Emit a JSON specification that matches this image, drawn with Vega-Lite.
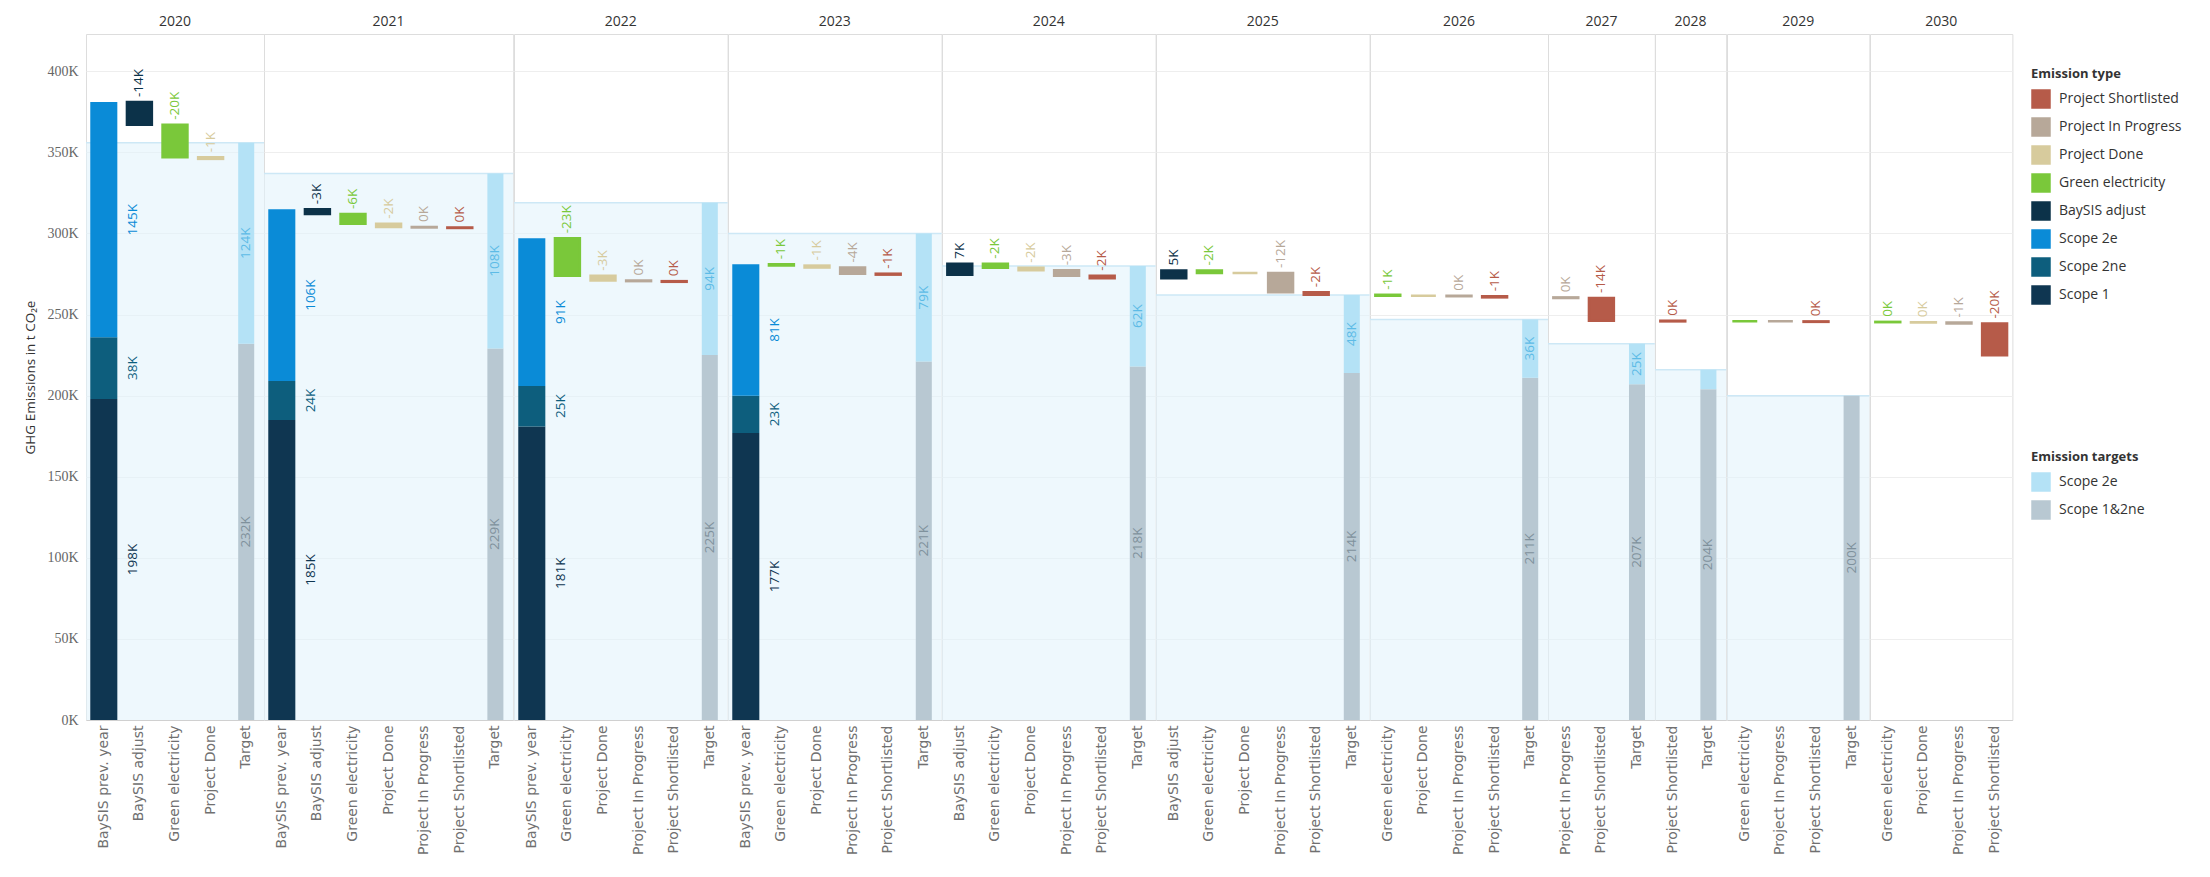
{
  "$schema": "https://vega.github.io/schema/vega-lite/v6.json",
  "background": "white",
  "padding": {"left": 23, "top": 15, "right": 0, "bottom": 0},
  "data": {
    "values": [
      {"year": "2020", "step": "BaySIS prev. year", "type": "Scope 1", "v": 198},
      {"year": "2020", "step": "BaySIS prev. year", "type": "Scope 2ne", "v": 38},
      {"year": "2020", "step": "BaySIS prev. year", "type": "Scope 2e", "v": 145},
      {"year": "2020", "step": "BaySIS adjust", "type": "BaySIS adjust", "v": -14, "base": 381},
      {"year": "2020", "step": "Green electricity", "type": "Green electricity", "v": -20, "base": 367},
      {"year": "2020", "step": "Project Done", "type": "Project Done", "v": -1, "base": 347},
      {"year": "2020", "step": "Target", "type": "Scope 1&2ne", "v": 232},
      {"year": "2020", "step": "Target", "type": "Scope 2e", "v": 124},

      {"year": "2021", "step": "BaySIS prev. year", "type": "Scope 1", "v": 185},
      {"year": "2021", "step": "BaySIS prev. year", "type": "Scope 2ne", "v": 24},
      {"year": "2021", "step": "BaySIS prev. year", "type": "Scope 2e", "v": 106},
      {"year": "2021", "step": "BaySIS adjust", "type": "BaySIS adjust", "v": -3, "base": 315},
      {"year": "2021", "step": "Green electricity", "type": "Green electricity", "v": -6, "base": 312},
      {"year": "2021", "step": "Project Done", "type": "Project Done", "v": -2, "base": 306},
      {"year": "2021", "step": "Project In Progress", "type": "Project In Progress", "v": -0.3, "base": 304},
      {"year": "2021", "step": "Project Shortlisted", "type": "Project Shortlisted", "v": -0.3, "base": 303.7},
      {"year": "2021", "step": "Target", "type": "Scope 1&2ne", "v": 229},
      {"year": "2021", "step": "Target", "type": "Scope 2e", "v": 108},

      {"year": "2022", "step": "BaySIS prev. year", "type": "Scope 1", "v": 181},
      {"year": "2022", "step": "BaySIS prev. year", "type": "Scope 2ne", "v": 25},
      {"year": "2022", "step": "BaySIS prev. year", "type": "Scope 2e", "v": 91},
      {"year": "2022", "step": "Green electricity", "type": "Green electricity", "v": -23, "base": 297},
      {"year": "2022", "step": "Project Done", "type": "Project Done", "v": -3, "base": 274},
      {"year": "2022", "step": "Project In Progress", "type": "Project In Progress", "v": -0.4, "base": 271},
      {"year": "2022", "step": "Project Shortlisted", "type": "Project Shortlisted", "v": -0.4, "base": 270.6},
      {"year": "2022", "step": "Target", "type": "Scope 1&2ne", "v": 225},
      {"year": "2022", "step": "Target", "type": "Scope 2e", "v": 94},

      {"year": "2023", "step": "BaySIS prev. year", "type": "Scope 1", "v": 177},
      {"year": "2023", "step": "BaySIS prev. year", "type": "Scope 2ne", "v": 23},
      {"year": "2023", "step": "BaySIS prev. year", "type": "Scope 2e", "v": 81},
      {"year": "2023", "step": "Green electricity", "type": "Green electricity", "v": -0.8, "base": 281},
      {"year": "2023", "step": "Project Done", "type": "Project Done", "v": -1.2, "base": 280.2},
      {"year": "2023", "step": "Project In Progress", "type": "Project In Progress", "v": -3.8, "base": 279},
      {"year": "2023", "step": "Project Shortlisted", "type": "Project Shortlisted", "v": -0.6, "base": 275.2},
      {"year": "2023", "step": "Target", "type": "Scope 1&2ne", "v": 221},
      {"year": "2023", "step": "Target", "type": "Scope 2e", "v": 79},

      {"year": "2024", "step": "BaySIS adjust", "type": "BaySIS adjust", "v": 6.8, "base": 274.6},
      {"year": "2024", "step": "Green electricity", "type": "Green electricity", "v": -2.5, "base": 281.4},
      {"year": "2024", "step": "Project Done", "type": "Project Done", "v": -1.6, "base": 278.9},
      {"year": "2024", "step": "Project In Progress", "type": "Project In Progress", "v": -3.3, "base": 277.3},
      {"year": "2024", "step": "Project Shortlisted", "type": "Project Shortlisted", "v": -1.6, "base": 274},
      {"year": "2024", "step": "Target", "type": "Scope 1&2ne", "v": 218},
      {"year": "2024", "step": "Target", "type": "Scope 2e", "v": 62},

      {"year": "2025", "step": "BaySIS adjust", "type": "BaySIS adjust", "v": 4.8, "base": 272.4},
      {"year": "2025", "step": "Green electricity", "type": "Green electricity", "v": -1.6, "base": 277.2},
      {"year": "2025", "step": "Project Done", "type": "Project Done", "v": 0, "base": 275.6},
      {"year": "2025", "step": "Project In Progress", "type": "Project In Progress", "v": -11.8, "base": 275.6},
      {"year": "2025", "step": "Project Shortlisted", "type": "Project Shortlisted", "v": -1.6, "base": 263.8},
      {"year": "2025", "step": "Target", "type": "Scope 1&2ne", "v": 214},
      {"year": "2025", "step": "Target", "type": "Scope 2e", "v": 48},

      {"year": "2026", "step": "Green electricity", "type": "Green electricity", "v": -0.6, "base": 262.2},
      {"year": "2026", "step": "Project Done", "type": "Project Done", "v": 0, "base": 261.6},
      {"year": "2026", "step": "Project In Progress", "type": "Project In Progress", "v": -0.3, "base": 261.6},
      {"year": "2026", "step": "Project Shortlisted", "type": "Project Shortlisted", "v": -0.7, "base": 261.3},
      {"year": "2026", "step": "Target", "type": "Scope 1&2ne", "v": 211},
      {"year": "2026", "step": "Target", "type": "Scope 2e", "v": 36},

      {"year": "2027", "step": "Project In Progress", "type": "Project In Progress", "v": -0.4, "base": 260.6},
      {"year": "2027", "step": "Project Shortlisted", "type": "Project Shortlisted", "v": -14, "base": 260.2},
      {"year": "2027", "step": "Target", "type": "Scope 1&2ne", "v": 207},
      {"year": "2027", "step": "Target", "type": "Scope 2e", "v": 25},

      {"year": "2028", "step": "Project Shortlisted", "type": "Project Shortlisted", "v": -0.4, "base": 246.2},
      {"year": "2028", "step": "Target", "type": "Scope 1&2ne", "v": 204},
      {"year": "2028", "step": "Target", "type": "Scope 2e", "v": 12},

      {"year": "2029", "step": "Green electricity", "type": "Green electricity", "v": 0, "base": 245.8},
      {"year": "2029", "step": "Project In Progress", "type": "Project In Progress", "v": 0, "base": 245.8},
      {"year": "2029", "step": "Project Shortlisted", "type": "Project Shortlisted", "v": -0.3, "base": 245.8},
      {"year": "2029", "step": "Target", "type": "Scope 1&2ne", "v": 200},

      {"year": "2030", "step": "Green electricity", "type": "Green electricity", "v": -0.2, "base": 245.5},
      {"year": "2030", "step": "Project Done", "type": "Project Done", "v": -0.2, "base": 245.3},
      {"year": "2030", "step": "Project In Progress", "type": "Project In Progress", "v": -0.6, "base": 245.1},
      {"year": "2030", "step": "Project Shortlisted", "type": "Project Shortlisted", "v": -19.6, "base": 244.5}
    ]
  },
  "transform": [
    {"calculate": "indexof(['Scope 1','Scope 2ne','Scope 1&2ne','Scope 2e'], datum.type)", "as": "ord"},
    {"stack": "v", "groupby": ["year", "step"], "sort": [{"field": "ord", "order": "ascending"}], "as": ["s0", "s1"]},
    {"calculate": "isValid(datum.base) ? min(datum.base, datum.base + datum.v) : datum.s0", "as": "lo"},
    {"calculate": "isValid(datum.base) ? max(datum.base, datum.base + datum.v) : datum.s1", "as": "hi"},
    {"calculate": "(datum.lo + datum.hi) / 2", "as": "mid"},
    {"calculate": "(round(datum.v) < 0 ? '-' : '') + abs(round(datum.v)) + 'K'", "as": "lbl"}
  ],
  "facet": {
    "column": {"field": "year", "type": "ordinal", "title": null}
  },
  "spacing": 0,
  "bounds": "flush",
  "resolve": {"scale": {"x": "independent"}},
  "spec": {
    "width": {"step": 35.6},
    "height": 686,
    "layer": [
      {
        "transform": [
          {"filter": "datum.step === 'Target'"},
          {"aggregate": [{"op": "sum", "field": "v", "as": "total"}], "groupby": ["year"]}
        ],
        "mark": {"type": "rect", "fill": "#e2f3fc", "opacity": 0.6},
        "encoding": {
          "y": {
            "field": "total", "type": "quantitative",
            "scale": {"domain": [0, 423], "nice": false},
            "axis": {"title": "GHG Emissions in t CO₂e", "values": [0, 50, 100, 150, 200, 250, 300, 350, 400], "labelExpr": "datum.value + 'K'"}
          },
          "y2": {"datum": 0}
        }
      },
      {
        "transform": [
          {"filter": "datum.step === 'Target'"},
          {"aggregate": [{"op": "sum", "field": "v", "as": "total"}], "groupby": ["year"]}
        ],
        "mark": {"type": "rule", "color": "#cde8f6", "strokeWidth": 1.5},
        "encoding": {
          "y": {
            "field": "total", "type": "quantitative",
            "scale": {"domain": [0, 423], "nice": false},
            "axis": {"title": "GHG Emissions in t CO₂e", "values": [0, 50, 100, 150, 200, 250, 300, 350, 400], "labelExpr": "datum.value + 'K'"}
          }
        }
      },
      {
        "transform": [{"filter": "datum.step === 'BaySIS prev. year'"}],
        "mark": {"type": "bar", "width": {"band": 0.76}},
        "encoding": {
          "x": {
            "field": "step", "type": "nominal",
            "sort": ["BaySIS prev. year", "BaySIS adjust", "Green electricity", "Project Done", "Project In Progress", "Project Shortlisted", "Target"],
            "scale": {"paddingInner": 0, "paddingOuter": 0},
            "axis": {"title": null}
          },
          "y": {
            "field": "lo", "type": "quantitative",
            "scale": {"domain": [0, 423], "nice": false},
            "axis": {"title": "GHG Emissions in t CO₂e", "values": [0, 50, 100, 150, 200, 250, 300, 350, 400], "labelExpr": "datum.value + 'K'"}
          },
          "y2": {"field": "hi"},
          "color": {
            "field": "type", "type": "nominal", "title": "Emission type",
            "scale": {
              "domain": ["Project Shortlisted", "Project In Progress", "Project Done", "Green electricity", "BaySIS adjust", "Scope 2e", "Scope 2ne", "Scope 1"],
              "range": ["#b65b49", "#b7a899", "#d7cb9d", "#7ac83a", "#0c3249", "#0a8bd7", "#0d5e7d", "#0f3651"]
            },
            "legend": {"orient": "none", "legendX": 1945, "legendY": 34}
          }
        }
      },
      {
        "transform": [{"filter": "isValid(datum.base)"}],
        "mark": {"type": "bar", "width": {"band": 0.7}, "strokeWidth": 2.5},
        "encoding": {
          "x": {
            "field": "step", "type": "nominal",
            "sort": ["BaySIS prev. year", "BaySIS adjust", "Green electricity", "Project Done", "Project In Progress", "Project Shortlisted", "Target"],
            "scale": {"paddingInner": 0, "paddingOuter": 0},
            "axis": {"title": null}
          },
          "y": {
            "field": "lo", "type": "quantitative",
            "scale": {"domain": [0, 423], "nice": false},
            "axis": {"title": "GHG Emissions in t CO₂e", "values": [0, 50, 100, 150, 200, 250, 300, 350, 400], "labelExpr": "datum.value + 'K'"}
          },
          "y2": {"field": "hi"},
          "color": {
            "field": "type", "type": "nominal", "title": "Emission type",
            "scale": {
              "domain": ["Project Shortlisted", "Project In Progress", "Project Done", "Green electricity", "BaySIS adjust", "Scope 2e", "Scope 2ne", "Scope 1"],
              "range": ["#b65b49", "#b7a899", "#d7cb9d", "#7ac83a", "#0c3249", "#0a8bd7", "#0d5e7d", "#0f3651"]
            }
          },
          "stroke": {
            "field": "type", "type": "nominal",
            "scale": {
              "domain": ["Project Shortlisted", "Project In Progress", "Project Done", "Green electricity", "BaySIS adjust", "Scope 2e", "Scope 2ne", "Scope 1"],
              "range": ["#b65b49", "#b7a899", "#d7cb9d", "#7ac83a", "#0c3249", "#0a8bd7", "#0d5e7d", "#0f3651"]
            },
            "legend": null
          }
        }
      },
      {
        "transform": [{"filter": "datum.step === 'Target'"}],
        "mark": {"type": "bar", "width": {"band": 0.45}},
        "encoding": {
          "x": {
            "field": "step", "type": "nominal",
            "sort": ["BaySIS prev. year", "BaySIS adjust", "Green electricity", "Project Done", "Project In Progress", "Project Shortlisted", "Target"],
            "scale": {"paddingInner": 0, "paddingOuter": 0},
            "axis": {"title": null}
          },
          "y": {
            "field": "lo", "type": "quantitative",
            "scale": {"domain": [0, 423], "nice": false},
            "axis": {"title": "GHG Emissions in t CO₂e", "values": [0, 50, 100, 150, 200, 250, 300, 350, 400], "labelExpr": "datum.value + 'K'"}
          },
          "y2": {"field": "hi"},
          "fill": {
            "field": "type", "type": "nominal", "title": "Emission targets",
            "scale": {"domain": ["Scope 2e", "Scope 1&2ne"], "range": ["#b4e2f6", "#b8c8d2"]},
            "legend": {"orient": "none", "legendX": 1945, "legendY": 417}
          }
        }
      },
      {
        "transform": [{"filter": "datum.step === 'BaySIS prev. year'"}],
        "mark": {"type": "text", "angle": 270, "align": "center", "baseline": "middle", "dy": 29, "font": "Open Sans", "fontSize": 13.5},
        "encoding": {
          "x": {
            "field": "step", "type": "nominal",
            "sort": ["BaySIS prev. year", "BaySIS adjust", "Green electricity", "Project Done", "Project In Progress", "Project Shortlisted", "Target"],
            "scale": {"paddingInner": 0, "paddingOuter": 0},
            "axis": {"title": null}
          },
          "y": {
            "field": "mid", "type": "quantitative",
            "scale": {"domain": [0, 423], "nice": false},
            "axis": {"title": "GHG Emissions in t CO₂e", "values": [0, 50, 100, 150, 200, 250, 300, 350, 400], "labelExpr": "datum.value + 'K'"}
          },
          "text": {"field": "lbl"},
          "color": {
            "field": "type", "type": "nominal", "title": "Emission type",
            "scale": {
              "domain": ["Project Shortlisted", "Project In Progress", "Project Done", "Green electricity", "BaySIS adjust", "Scope 2e", "Scope 2ne", "Scope 1"],
              "range": ["#b65b49", "#b7a899", "#d7cb9d", "#7ac83a", "#0c3249", "#0a8bd7", "#0d5e7d", "#0f3651"]
            }
          }
        }
      },
      {
        "transform": [{"filter": "datum.step === 'Target' && datum.v >= 20"}],
        "mark": {"type": "text", "angle": 270, "align": "center", "baseline": "middle", "font": "Open Sans", "fontSize": 13.5},
        "encoding": {
          "x": {
            "field": "step", "type": "nominal",
            "sort": ["BaySIS prev. year", "BaySIS adjust", "Green electricity", "Project Done", "Project In Progress", "Project Shortlisted", "Target"],
            "scale": {"paddingInner": 0, "paddingOuter": 0},
            "axis": {"title": null}
          },
          "y": {
            "field": "mid", "type": "quantitative",
            "scale": {"domain": [0, 423], "nice": false},
            "axis": {"title": "GHG Emissions in t CO₂e", "values": [0, 50, 100, 150, 200, 250, 300, 350, 400], "labelExpr": "datum.value + 'K'"}
          },
          "text": {"field": "lbl"},
          "color": {"condition": {"test": "datum.type === 'Scope 2e'", "value": "#5dbbe6"}, "value": "#7f919c"}
        }
      },
      {
        "transform": [{"filter": "isValid(datum.base) && datum.v !== 0"}],
        "mark": {"type": "text", "angle": 270, "align": "left", "baseline": "middle", "dx": 5, "font": "Open Sans", "fontSize": 13.5},
        "encoding": {
          "x": {
            "field": "step", "type": "nominal",
            "sort": ["BaySIS prev. year", "BaySIS adjust", "Green electricity", "Project Done", "Project In Progress", "Project Shortlisted", "Target"],
            "scale": {"paddingInner": 0, "paddingOuter": 0},
            "axis": {"title": null}
          },
          "y": {
            "field": "hi", "type": "quantitative",
            "scale": {"domain": [0, 423], "nice": false},
            "axis": {"title": "GHG Emissions in t CO₂e", "values": [0, 50, 100, 150, 200, 250, 300, 350, 400], "labelExpr": "datum.value + 'K'"}
          },
          "text": {"field": "lbl"},
          "color": {
            "field": "type", "type": "nominal", "title": "Emission type",
            "scale": {
              "domain": ["Project Shortlisted", "Project In Progress", "Project Done", "Green electricity", "BaySIS adjust", "Scope 2e", "Scope 2ne", "Scope 1"],
              "range": ["#b65b49", "#b7a899", "#d7cb9d", "#7ac83a", "#0c3249", "#0a8bd7", "#0d5e7d", "#0f3651"]
            }
          }
        }
      }
    ]
  },
  "config": {
    "font": "Open Sans",
    "view": {"stroke": "#dddddd", "strokeWidth": 1},
    "header": {"labelFont": "Open Sans", "labelFontSize": 14, "labelColor": "#333333", "labelPadding": 5},
    "axisX": {
      "labelAngle": -90, "labelFont": "DejaVu Sans", "labelFontSize": 14, "labelColor": "#707070",
      "ticks": false, "domain": true, "domainColor": "#d0d0d0", "labelPadding": 5, "grid": false
    },
    "axisY": {
      "grid": true, "gridColor": "#eeeeee", "domain": false, "ticks": false,
      "labelFont": "Liberation Sans Narrow", "labelFontSize": 14, "labelColor": "#666666", "labelPadding": 8,
      "titleFont": "Open Sans", "titleFontSize": 13.5, "titleFontWeight": "normal", "titleColor": "#333333", "titlePadding": 9
    },
    "legend": {
      "symbolType": "square", "symbolSize": 380, "symbolStrokeWidth": 0, "symbolOpacity": 1,
      "labelFont": "Open Sans", "labelFontSize": 14, "labelColor": "#333333", "labelOffset": 8,
      "titleFont": "Open Sans", "titleFontSize": 13, "titleFontWeight": "bold", "titleColor": "#333333", "titlePadding": 8,
      "rowPadding": 8
    }
  }
}
